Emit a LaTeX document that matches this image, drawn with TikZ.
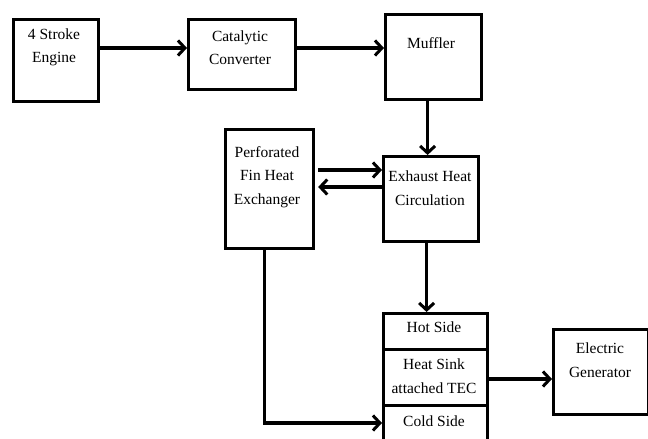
\documentclass[tikz,border=0pt]{standalone}
\usepackage{fontspec}
\setmainfont{Liberation Serif}
\usetikzlibrary{arrows.meta}
\begin{document}
\begin{tikzpicture}[x=1pt,y=-1pt,
  box/.style={draw=black,line width=3.2pt,rectangle,inner sep=0pt,anchor=north west},
  txt/.style={align=center,font=\fontsize{15.5}{23.5}\selectfont,inner sep=0pt},
  arr/.style={line width=3.4pt,-{Straight Barb[length=7pt,width=15pt,line width=3pt]}}]
\useasboundingbox (0,0) rectangle (648,439);
\clip (0,0) rectangle (648,439);
% boxes
\node[box,minimum width=85pt,minimum height=82pt] (eng) at (12,18) {};
\node[box,minimum width=107pt,minimum height=70pt] (cat) at (187,18) {};
\node[box,minimum width=96pt,minimum height=85pt] (muf) at (384,13) {};
\node[box,minimum width=88pt,minimum height=119pt] (perf) at (224,128) {};
\node[box,minimum width=95pt,minimum height=85pt] (exh) at (382,155) {};
\node[box,minimum width=104pt,minimum height=36pt] (hot) at (382,312) {};
\node[box,minimum width=104pt,minimum height=56pt] (sink) at (382,348) {};
\node[box,minimum width=104pt,minimum height=70pt] (cold) at (382,404) {};
\node[box,minimum width=95pt,minimum height=85pt] (gen) at (552,328) {};
% texts
\node[txt] (tEng) at (54,47.5) {4 Stroke\\Engine};
\node[txt] (tCat) at (240,47.5) {Catalytic\\Converter};
\node[txt] (tMuf) at (431,43) {Muffler};
\node[txt] (tPerf) at (267,177) {Perforated\\Fin Heat\\Exchanger};
\node[txt] (tExh) at (430,188) {Exhaust Heat\\Circulation};
\node[txt] (tHot) at (434,327) {Hot Side};
\node[txt] (tSink) at (434,376) {Heat Sink\\attached TEC};
\node[txt] (tCold) at (434,421) {Cold Side};
\node[txt] (tGen) at (600,360) {Electric\\Generator};
% connectors
\draw[arr] ([yshift=-30pt]eng.north east) -- ([yshift=-30pt]cat.north west);
\draw[arr] ([yshift=-30pt]cat.north east) -- ([yshift=-35pt]muf.north west);
\draw[arr] ([xshift=-3.5pt]exh.north |- muf.south) -- ([xshift=-3.5pt]exh.north);
\draw[arr] ([xshift=-4.5pt]exh.south) -- ([xshift=-9pt]hot.north);
\draw[arr] ([yshift=-42pt,xshift=3pt]perf.north east) -- ([yshift=-15pt]exh.north west);
\draw[arr] ([yshift=-32pt]exh.north west) -- ([yshift=-59pt,xshift=3pt]perf.north east);
\draw[arr] ([xshift=-5pt]perf.south) |- ([yshift=-19pt]cold.north west);
\draw[arr] ([yshift=-31pt]sink.north east) -- ([yshift=-51pt]gen.north west);
\end{tikzpicture}
\end{document}
